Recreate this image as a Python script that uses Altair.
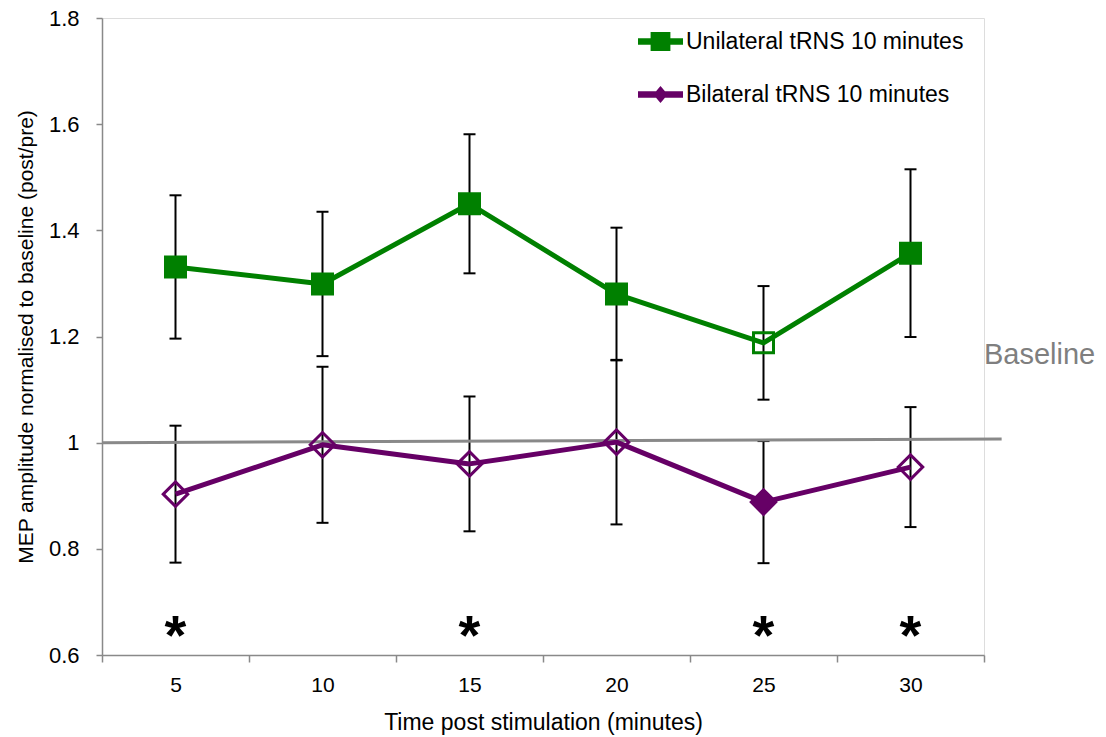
import altair as alt
import pandas as pd

# Time points (minutes after stimulation)
times = [5, 10, 15, 20, 25, 30]

# Unilateral tRNS: mean MEP ratio, SEM, and whether the marker is solid
uni_mean = [1.331, 1.299, 1.450, 1.280, 1.188, 1.357]
uni_sem = [0.135, 0.136, 0.131, 0.125, 0.107, 0.158]
uni_solid = [True, True, True, True, False, True]

# Bilateral tRNS
bi_mean = [0.903, 0.996, 0.960, 1.001, 0.888, 0.954]
bi_sem = [0.129, 0.147, 0.127, 0.155, 0.115, 0.113]
bi_solid = [False, False, False, False, True, False]

# Time points with a significant difference between conditions
sig_times = [5, 15, 25, 30]

series_names = ["Unilateral tRNS 10 minutes", "Bilateral tRNS 10 minutes"]
y_ticks = [0.6, 0.8, 1.0, 1.2, 1.4, 1.6, 1.8]
x_edges = [2.5, 7.5, 12.5, 17.5, 22.5, 27.5, 32.5]
baseline_ends = [1.0, 1.007]

GREEN = "#008000"
PURPLE = "#660066"
GRAY = "#898989"
FONT = "Liberation Sans"
W, H = 882, 637


def frame(mean, sem, solid):
    df = pd.DataFrame({"time": times, "mean": mean, "sem": sem, "solid": solid})
    df["lo"] = df["mean"] - df["sem"]
    df["hi"] = df["mean"] + df["sem"]
    return df


uni = frame(uni_mean, uni_sem, uni_solid)
bi = frame(bi_mean, bi_sem, bi_solid)

x_axis_values = sorted(set(x_edges + times))
x_scale = alt.Scale(domain=[x_edges[0], x_edges[-1]], nice=False, zero=False)
y_scale = alt.Scale(domain=[y_ticks[0], y_ticks[-1]], nice=False, zero=False)

x_enc = alt.X(
    "time:Q",
    scale=x_scale,
    axis=alt.Axis(
        values=x_axis_values,
        labelExpr="datum.value % 5 == 0 ? datum.value : ''",
        tickOpacity={"condition": {"test": "datum.value % 5 == 0", "value": 0}, "value": 1},
        title="Time post stimulation (minutes)",
        titleFont=FONT,
        titleFontSize=23,
        titleFontWeight="normal",
        titleColor="#000000",
        titleX=W / 2,
        titleY=56,
        titleBaseline="top",
        labelFont=FONT,
        labelFontSize=21,
        labelColor="#000000",
        labelPadding=12,
        tickSize=7,
        tickColor=GRAY,
        tickWidth=1.5,
        domainColor=GRAY,
        domainWidth=1.5,
        grid=False,
    ),
)

y_axis = alt.Axis(
    values=y_ticks,
    format=".1~f",
    title="MEP amplitude normalised to baseline (post/pre)",
    titleFont=FONT,
    titleFontSize=21,
    titleFontWeight="normal",
    titleColor="#000000",
    titleX=-66,
    titleY=H / 2,
    titleAngle=270,
    titleAlign="center",
    titleBaseline="bottom",
    labelFont=FONT,
    labelFontSize=22,
    labelColor="#000000",
    labelPadding=17,
    tickSize=6,
    tickColor=GRAY,
    tickWidth=1.5,
    domainColor=GRAY,
    domainWidth=1.5,
    grid=False,
)


def series_layers(df, color, shape, size):
    base = alt.Chart(df)
    bars = base.mark_rule(color="black", strokeWidth=2).encode(
        x=x_enc, y=alt.Y("lo:Q", scale=y_scale, axis=y_axis), y2="hi:Q"
    )
    cap_lo = base.mark_tick(color="black", orient="horizontal", size=12, thickness=2, opacity=1).encode(
        x="time:Q", y="lo:Q"
    )
    cap_hi = base.mark_tick(color="black", orient="horizontal", size=12, thickness=2, opacity=1).encode(
        x="time:Q", y="hi:Q"
    )
    line = base.mark_line(color=color, strokeWidth=5, strokeJoin="round").encode(
        x="time:Q", y="mean:Q"
    )
    pts = base.mark_point(shape=shape, size=size, stroke=color, strokeWidth=3, opacity=1).encode(
        x="time:Q",
        y="mean:Q",
        fill=alt.condition("datum.solid", alt.value(color), alt.value("transparent")),
    )
    return [bars, cap_lo, cap_hi], [line], [pts]


one_row = alt.Data(values=[{}])

baseline = alt.Chart(one_row).mark_rule(color=GRAY, strokeWidth=3).encode(
    x=alt.XDatum(x_edges[0]),
    x2=alt.X2Datum(33.1),
    y=alt.YDatum(baseline_ends[0]),
    y2=alt.Y2Datum(baseline_ends[1]),
)

baseline_label = alt.Chart(one_row).mark_text(
    text="Baseline", align="left", baseline="middle", font=FONT,
    fontSize=29, color="#7f7f7f",
).encode(x=alt.XDatum(x_edges[-1]), y=alt.YDatum(1.165))

stars = alt.Chart(pd.DataFrame({"time": sig_times})).mark_text(
    text="*", font=FONT, fontWeight="bold", fontSize=56,
    baseline="middle", align="center", dy=9, color="#000000",
).encode(x="time:Q", y=alt.YDatum(0.65))

# Legend entries: a line segment with the series marker on it
uni_icon = "M-1,-0.14L1,-0.14L1,0.14L-1,0.14Z M-0.44,-0.42L0.44,-0.42L0.44,0.42L-0.44,0.42Z"
bi_icon = "M-1,-0.14L1,-0.14L1,0.14L-1,0.14Z M0,-0.38L0.32,0L0,0.38L-0.32,0Z"
legend = alt.Legend(
    title=None, orient="none", legendX=536, legendY=1, padding=0,
    labelFont=FONT, labelFontSize=23, labelColor="#000000",
    labelOffset=3, labelLimit=400, symbolSize=2025, symbolStrokeWidth=0,
    rowPadding=18,
)
legend_layer = alt.Chart(pd.DataFrame({"series": series_names})).transform_filter(
    "false"
).mark_point(filled=True, opacity=1, size=2025).encode(
    x="time:Q",
    y="mean:Q",
    color=alt.Color("series:N", scale=alt.Scale(domain=series_names, range=[GREEN, PURPLE]), legend=legend),
    shape=alt.Shape("series:N", scale=alt.Scale(domain=series_names, range=[uni_icon, bi_icon]), legend=legend),
)

u_err, u_line, u_pts = series_layers(uni, GREEN, "square", 400)
b_err, b_line, b_pts = series_layers(bi, PURPLE, "diamond", 600)

chart = alt.layer(
    *u_err, *b_err, baseline, *u_line, *b_line, *u_pts, *b_pts,
    stars, baseline_label, legend_layer,
).properties(
    width=W, height=H,
    autosize=alt.AutoSizeParams(type="none"),
    padding={"left": 102, "top": 18, "right": 122, "bottom": 82},
).configure_view(stroke=None).configure(background="white")

chart.save("out.html", embed_options={"renderer": "svg", "actions": False})
